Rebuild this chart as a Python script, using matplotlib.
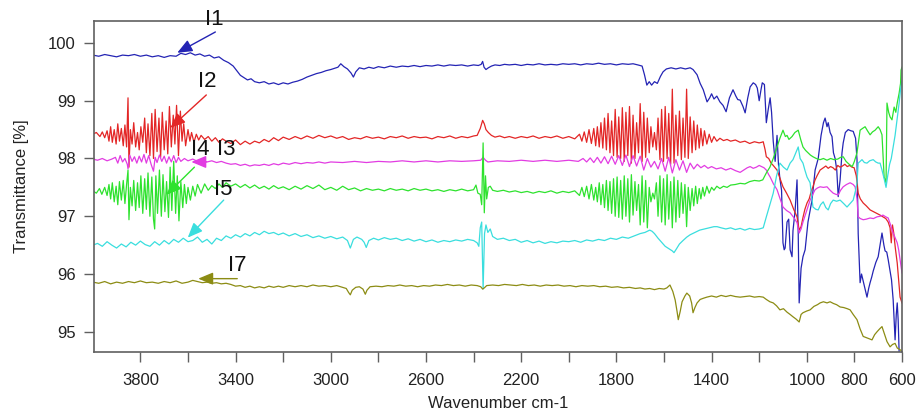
import numpy as np
import matplotlib
matplotlib.use("Agg")
import matplotlib.pyplot as plt

plt.rcParams['font.family'] = ['Liberation Sans', 'DejaVu Sans']

# FTIR spectra: flat lists of (wavenumber, transmittance %) pairs
i1 = [
    4000, 99.79, 3975, 99.77, 3950, 99.80, 3925, 99.78, 3900, 99.76, 3875, 99.79, 3850, 99.78, 3825, 99.80,
    3800, 99.77, 3775, 99.79, 3750, 99.76, 3725, 99.78, 3700, 99.75, 3675, 99.78, 3650, 99.77, 3630, 99.82,
    3610, 99.80, 3590, 99.83, 3570, 99.79, 3550, 99.81, 3530, 99.77, 3510, 99.79, 3490, 99.74, 3470, 99.76,
    3450, 99.70, 3430, 99.66, 3410, 99.60, 3395, 99.52, 3380, 99.44, 3365, 99.40, 3350, 99.36, 3335, 99.38,
    3320, 99.33, 3300, 99.31, 3280, 99.33, 3260, 99.29, 3240, 99.31, 3220, 99.28, 3200, 99.31, 3180, 99.29,
    3160, 99.32, 3140, 99.34, 3120, 99.37, 3100, 99.41, 3080, 99.44, 3060, 99.47, 3040, 99.49, 3020, 99.52,
    3000, 99.54, 2985, 99.56, 2970, 99.58, 2958, 99.64, 2945, 99.59, 2930, 99.55, 2915, 99.48, 2905, 99.41,
    2895, 99.50, 2880, 99.57, 2860, 99.55, 2840, 99.58, 2820, 99.56, 2800, 99.59, 2775, 99.57, 2750, 99.60,
    2725, 99.58, 2700, 99.60, 2675, 99.59, 2650, 99.61, 2625, 99.59, 2600, 99.61, 2575, 99.60, 2550, 99.62,
    2525, 99.60, 2500, 99.62, 2475, 99.61, 2450, 99.62, 2425, 99.60, 2400, 99.62, 2380, 99.61, 2368, 99.63,
    2362, 99.68, 2356, 99.58, 2348, 99.54, 2338, 99.57, 2325, 99.60, 2310, 99.62, 2290, 99.61, 2270, 99.63,
    2250, 99.62, 2225, 99.63, 2200, 99.61, 2175, 99.63, 2150, 99.62, 2125, 99.64, 2100, 99.62, 2075, 99.63,
    2050, 99.62, 2025, 99.64, 2000, 99.63, 1975, 99.64, 1950, 99.62, 1925, 99.64, 1900, 99.63, 1875, 99.65,
    1850, 99.63, 1825, 99.64, 1800, 99.62, 1775, 99.64, 1750, 99.63, 1730, 99.64, 1710, 99.62, 1692, 99.60,
    1682, 99.45, 1672, 99.27, 1662, 99.33, 1652, 99.27, 1640, 99.33, 1628, 99.30, 1615, 99.42, 1604, 99.50,
    1590, 99.55, 1570, 99.57, 1550, 99.55, 1530, 99.57, 1510, 99.55, 1490, 99.57, 1478, 99.54, 1461, 99.45,
    1448, 99.30, 1435, 99.19, 1419, 98.98, 1408, 99.05, 1400, 99.12, 1390, 99.03, 1378, 99.08, 1365, 98.98,
    1352, 98.92, 1339, 98.81, 1325, 99.05, 1310, 99.19, 1298, 99.08, 1290, 99.02, 1280, 99.01, 1268, 98.90,
    1259, 98.79, 1248, 99.05, 1238, 99.24, 1225, 99.31, 1215, 99.28, 1208, 99.22, 1200, 99.00, 1192, 99.20,
    1187, 99.31, 1178, 99.28, 1170, 98.62, 1162, 98.85, 1154, 99.05, 1148, 98.80, 1141, 98.30, 1133, 97.95,
    1125, 98.40, 1119, 97.90, 1113, 97.65, 1106, 97.45, 1100, 96.54, 1095, 96.42, 1091, 96.45, 1083, 96.90,
    1076, 96.95, 1070, 96.42, 1062, 96.30, 1058, 96.75, 1049, 97.10, 1041, 97.63, 1036, 96.70, 1032, 95.50,
    1024, 96.10, 1016, 96.30, 1007, 96.42, 995, 96.90, 978, 97.28, 965, 97.80, 952, 98.00, 940, 98.40,
    930, 98.62, 923, 98.70, 915, 98.55, 910, 98.62, 902, 98.45, 894, 98.38, 888, 98.10, 881, 98.00,
    874, 97.80, 868, 97.34, 860, 97.63, 852, 98.10, 847, 98.27, 838, 98.45, 826, 98.50, 815, 98.48,
    805, 98.47, 795, 98.35, 789, 97.98, 784, 96.70, 776, 95.85, 770, 96.00, 763, 95.88, 755, 95.75,
    747, 95.60, 740, 95.75, 734, 95.85, 727, 95.95, 721, 96.05, 710, 96.20, 700, 96.30, 690, 96.55,
    684, 96.71, 676, 96.50, 671, 96.40, 664, 96.38, 658, 96.25, 650, 96.05, 644, 95.90, 637, 95.55,
    629, 94.86, 624, 95.30, 620, 95.50, 616, 95.20, 612, 94.65, 606, 94.55, 600, 94.50,
]

i2 = [
    4000, 98.42, 3985, 98.45, 3970, 98.38, 3960, 98.46, 3950, 98.36, 3940, 98.48, 3932, 98.30, 3925, 98.55,
    3918, 98.28, 3910, 98.50, 3902, 98.25, 3895, 98.60, 3888, 98.30, 3880, 98.52, 3872, 98.22, 3865, 98.58,
    3858, 98.20, 3852, 99.05, 3848, 97.85, 3842, 98.50, 3835, 98.25, 3828, 98.62, 3820, 98.20, 3812, 98.45,
    3805, 98.15, 3798, 98.55, 3790, 98.28, 3782, 98.70, 3775, 98.10, 3768, 98.60, 3760, 98.05, 3752, 98.78,
    3745, 98.00, 3738, 98.85, 3730, 98.12, 3722, 98.70, 3715, 98.02, 3708, 98.80, 3700, 98.15, 3692, 98.65,
    3685, 98.08, 3678, 98.90, 3670, 98.20, 3662, 98.75, 3655, 98.25, 3648, 98.92, 3640, 98.05, 3632, 98.82,
    3625, 98.30, 3618, 98.60, 3610, 98.22, 3600, 98.50, 3592, 98.30, 3585, 98.45, 3575, 98.28, 3565, 98.42,
    3555, 98.32, 3545, 98.40, 3530, 98.33, 3515, 98.38, 3500, 98.30, 3485, 98.36, 3470, 98.28, 3455, 98.34,
    3440, 98.30, 3420, 98.26, 3400, 98.32, 3380, 98.24, 3360, 98.30, 3340, 98.25, 3320, 98.30, 3300, 98.27,
    3280, 98.33, 3260, 98.29, 3240, 98.36, 3220, 98.31, 3200, 98.37, 3175, 98.33, 3150, 98.38, 3125, 98.34,
    3100, 98.39, 3075, 98.35, 3050, 98.40, 3025, 98.36, 3000, 98.39, 2975, 98.35, 2950, 98.38, 2925, 98.33,
    2900, 98.36, 2875, 98.34, 2850, 98.38, 2825, 98.35, 2800, 98.37, 2775, 98.34, 2750, 98.38, 2725, 98.36,
    2700, 98.39, 2675, 98.35, 2650, 98.38, 2625, 98.36, 2600, 98.37, 2575, 98.34, 2550, 98.38, 2525, 98.36,
    2500, 98.39, 2475, 98.35, 2450, 98.38, 2425, 98.36, 2400, 98.39, 2385, 98.40, 2372, 98.52, 2362, 98.66,
    2355, 98.60, 2348, 98.50, 2338, 98.45, 2325, 98.40, 2310, 98.37, 2290, 98.39, 2270, 98.36, 2250, 98.38,
    2225, 98.35, 2200, 98.38, 2175, 98.36, 2150, 98.39, 2125, 98.35, 2100, 98.38, 2075, 98.36, 2050, 98.39,
    2025, 98.35, 2000, 98.38, 1975, 98.34, 1955, 98.42, 1945, 98.30, 1935, 98.46, 1925, 98.28, 1915, 98.50,
    1905, 98.26, 1895, 98.52, 1887, 98.22, 1880, 98.55, 1872, 98.20, 1865, 98.62, 1857, 98.18, 1850, 98.70,
    1842, 98.15, 1835, 98.78, 1827, 98.10, 1820, 98.65, 1812, 98.05, 1805, 98.85, 1797, 98.02, 1790, 98.72,
    1782, 98.00, 1775, 98.88, 1767, 97.95, 1760, 98.80, 1752, 98.05, 1745, 98.90, 1737, 97.92, 1730, 98.75,
    1722, 98.00, 1715, 98.62, 1707, 98.10, 1700, 98.95, 1692, 97.95, 1685, 98.80, 1677, 98.02, 1670, 98.70,
    1662, 98.10, 1655, 98.55, 1647, 98.20, 1640, 98.45, 1632, 98.15, 1625, 98.70, 1617, 97.98, 1610, 98.85,
    1602, 97.95, 1595, 98.90, 1587, 98.00, 1580, 98.78, 1572, 97.90, 1565, 99.20, 1558, 97.92, 1550, 98.75,
    1542, 98.05, 1535, 98.82, 1527, 97.98, 1520, 98.70, 1512, 98.02, 1505, 99.20, 1498, 98.00, 1490, 98.72,
    1482, 98.10, 1475, 98.65, 1467, 98.15, 1460, 98.58, 1452, 98.18, 1445, 98.52, 1437, 98.22, 1430, 98.48,
    1420, 98.25, 1410, 98.42, 1400, 98.28, 1390, 98.38, 1378, 98.30, 1365, 98.35, 1350, 98.31, 1335, 98.33,
    1320, 98.30, 1300, 98.32, 1280, 98.28, 1260, 98.30, 1240, 98.26, 1220, 98.29, 1200, 98.27, 1190, 98.28,
    1183, 98.29, 1175, 98.15, 1170, 98.03, 1160, 98.00, 1150, 97.92, 1141, 97.88, 1125, 97.80, 1112, 97.65,
    1100, 97.51, 1085, 97.40, 1070, 97.28, 1055, 97.12, 1041, 96.99, 1032, 96.76, 1024, 96.82, 1016, 96.98,
    1008, 97.12, 999, 97.23, 990, 97.30, 980, 97.45, 974, 97.51, 966, 97.62, 957, 97.70, 944, 97.80,
    930, 97.84, 920, 97.87, 910, 97.83, 900, 97.86, 890, 97.84, 880, 97.80, 870, 97.88, 860, 97.85,
    850, 97.87, 840, 97.90, 830, 97.86, 820, 97.88, 810, 97.85, 801, 97.84, 792, 97.70, 784, 97.40,
    775, 97.30, 763, 97.23, 750, 97.18, 734, 97.11, 720, 97.08, 705, 97.05, 692, 97.02, 680, 96.99,
    668, 96.96, 658, 96.90, 650, 96.80, 645, 96.54, 640, 96.85, 635, 96.72, 628, 96.45, 620, 96.19,
    614, 95.90, 608, 95.60, 600, 95.50,
]

i3 = [
    4000, 97.99, 3980, 97.97, 3960, 98.00, 3940, 97.96, 3920, 97.99, 3905, 98.02, 3895, 97.92, 3885, 98.05,
    3875, 97.94, 3865, 98.00, 3855, 97.90, 3852, 97.82, 3845, 98.06, 3835, 97.95, 3825, 98.03, 3815, 97.92,
    3805, 98.04, 3795, 97.94, 3785, 98.07, 3775, 97.92, 3765, 98.05, 3755, 97.90, 3745, 97.78, 3738, 98.02,
    3730, 97.93, 3720, 98.06, 3710, 97.95, 3700, 98.04, 3690, 97.92, 3680, 98.03, 3670, 97.94, 3660, 98.05,
    3650, 97.93, 3640, 98.02, 3630, 97.95, 3615, 98.00, 3600, 97.96, 3580, 97.99, 3560, 97.95, 3540, 97.97,
    3520, 97.94, 3500, 97.96, 3480, 97.93, 3460, 97.95, 3440, 97.92, 3420, 97.90, 3400, 97.91, 3380, 97.88,
    3360, 97.90, 3340, 97.87, 3320, 97.89, 3300, 97.88, 3280, 97.90, 3260, 97.88, 3240, 97.91, 3220, 97.89,
    3200, 97.92, 3175, 97.90, 3150, 97.93, 3125, 97.91, 3100, 97.93, 3075, 97.92, 3050, 97.94, 3025, 97.92,
    3000, 97.94, 2950, 97.93, 2900, 97.95, 2850, 97.93, 2800, 97.95, 2750, 97.94, 2700, 97.96, 2650, 97.94,
    2600, 97.96, 2550, 97.94, 2500, 97.96, 2450, 97.95, 2400, 97.96, 2370, 97.97, 2360, 98.02, 2350, 97.97,
    2340, 97.94, 2300, 97.96, 2250, 97.95, 2200, 97.97, 2150, 97.95, 2100, 97.97, 2050, 97.95, 2000, 97.97,
    1960, 97.95, 1940, 98.00, 1925, 97.94, 1910, 98.01, 1895, 97.93, 1880, 98.02, 1865, 97.92, 1850, 98.03,
    1835, 97.91, 1820, 98.04, 1805, 97.90, 1790, 98.05, 1775, 97.88, 1760, 98.06, 1745, 97.86, 1730, 98.05,
    1715, 97.87, 1700, 98.04, 1685, 97.80, 1670, 98.00, 1655, 97.85, 1640, 97.95, 1625, 97.82, 1610, 98.00,
    1595, 97.78, 1580, 98.02, 1565, 97.75, 1550, 97.98, 1535, 97.80, 1520, 97.96, 1505, 97.76, 1490, 97.92,
    1475, 97.82, 1460, 97.90, 1445, 97.84, 1430, 97.88, 1415, 97.83, 1400, 97.86, 1380, 97.82, 1360, 97.84,
    1340, 97.80, 1320, 97.83, 1300, 97.79, 1280, 97.76, 1265, 97.80, 1250, 97.84, 1238, 97.86, 1225, 97.83,
    1212, 97.85, 1200, 97.88, 1190, 97.86, 1180, 97.84, 1170, 97.80, 1160, 97.72, 1154, 97.68, 1140, 97.56,
    1125, 97.46, 1112, 97.30, 1100, 97.16, 1085, 97.10, 1070, 97.06, 1055, 96.98, 1041, 96.89, 1032, 96.71,
    1024, 96.78, 1016, 96.90, 1008, 97.00, 999, 97.11, 986, 97.28, 975, 97.38, 965, 97.46, 955, 97.49,
    944, 97.51, 930, 97.50, 915, 97.51, 902, 97.45, 889, 97.40, 878, 97.38, 868, 97.37, 858, 97.45,
    847, 97.51, 833, 97.55, 818, 97.58, 805, 97.55, 797, 97.51, 789, 97.30, 784, 96.99, 775, 96.96,
    763, 96.94, 750, 96.95, 734, 96.97, 720, 96.96, 705, 96.99, 692, 97.00, 680, 97.02, 668, 96.99,
    658, 96.97, 648, 96.85, 637, 96.71, 628, 96.62, 620, 96.54, 614, 96.42, 608, 96.25, 600, 96.02,
]

i4 = [
    4000, 97.44, 3985, 97.40, 3972, 97.48, 3962, 97.38, 3950, 97.50, 3940, 97.36, 3932, 97.55, 3925, 97.30,
    3918, 97.58, 3910, 97.25, 3902, 97.52, 3895, 97.20, 3888, 97.60, 3880, 97.28, 3872, 97.62, 3865, 97.22,
    3858, 97.55, 3852, 97.80, 3848, 96.94, 3842, 97.50, 3835, 97.18, 3828, 97.62, 3820, 97.10, 3812, 97.58,
    3805, 97.15, 3798, 97.70, 3790, 97.05, 3782, 97.65, 3775, 97.12, 3768, 97.75, 3760, 97.00, 3752, 97.68,
    3745, 96.95, 3740, 96.78, 3735, 97.70, 3728, 97.05, 3720, 97.80, 3712, 97.00, 3705, 97.72, 3697, 97.08,
    3690, 97.60, 3682, 96.98, 3675, 97.85, 3668, 97.10, 3660, 97.95, 3652, 97.05, 3645, 97.70, 3638, 96.92,
    3630, 97.60, 3622, 97.15, 3615, 97.55, 3607, 97.22, 3600, 97.50, 3590, 97.28, 3580, 97.52, 3570, 97.35,
    3560, 97.55, 3545, 97.40, 3530, 97.56, 3515, 97.45, 3500, 97.53, 3485, 97.48, 3470, 97.56, 3455, 97.50,
    3440, 97.58, 3420, 97.52, 3400, 97.56, 3380, 97.50, 3360, 97.55, 3340, 97.49, 3320, 97.54, 3300, 97.48,
    3280, 97.52, 3260, 97.47, 3240, 97.53, 3220, 97.48, 3200, 97.51, 3175, 97.46, 3150, 97.52, 3125, 97.47,
    3100, 97.53, 3075, 97.48, 3050, 97.54, 3025, 97.46, 3000, 97.50, 2975, 97.45, 2950, 97.52, 2925, 97.46,
    2900, 97.49, 2875, 97.44, 2850, 97.48, 2825, 97.45, 2800, 97.47, 2775, 97.44, 2750, 97.48, 2725, 97.45,
    2700, 97.47, 2675, 97.44, 2650, 97.48, 2625, 97.45, 2600, 97.47, 2575, 97.44, 2550, 97.46, 2525, 97.43,
    2500, 97.46, 2475, 97.44, 2450, 97.47, 2425, 97.44, 2400, 97.46, 2390, 97.54, 2382, 97.40, 2372, 97.38,
    2366, 97.20, 2360, 98.27, 2355, 97.06, 2350, 97.70, 2345, 97.30, 2338, 97.50, 2330, 97.52, 2320, 97.45,
    2300, 97.43, 2275, 97.45, 2250, 97.42, 2225, 97.44, 2200, 97.41, 2175, 97.43, 2150, 97.40, 2125, 97.43,
    2100, 97.41, 2075, 97.44, 2050, 97.40, 2025, 97.43, 2000, 97.41, 1975, 97.44, 1955, 97.36, 1945, 97.50,
    1935, 97.34, 1925, 97.52, 1915, 97.30, 1905, 97.55, 1895, 97.28, 1887, 97.50, 1880, 97.25, 1872, 97.58,
    1865, 97.20, 1857, 97.55, 1850, 97.15, 1842, 97.62, 1835, 97.10, 1827, 97.60, 1820, 97.05, 1812, 97.65,
    1805, 97.00, 1797, 97.68, 1790, 96.98, 1782, 97.62, 1775, 96.95, 1767, 97.70, 1760, 97.00, 1752, 97.65,
    1745, 96.90, 1737, 97.72, 1730, 97.02, 1722, 97.60, 1715, 97.10, 1707, 97.55, 1700, 96.85, 1692, 97.70,
    1685, 96.90, 1677, 97.62, 1670, 96.80, 1662, 97.50, 1655, 97.25, 1647, 97.40, 1640, 97.30, 1632, 97.58,
    1625, 97.00, 1617, 97.70, 1610, 96.90, 1602, 97.65, 1595, 96.85, 1587, 97.72, 1580, 96.95, 1572, 97.60,
    1565, 96.80, 1558, 97.68, 1550, 96.90, 1542, 97.62, 1535, 96.98, 1527, 97.58, 1520, 97.05, 1512, 97.55,
    1505, 96.82, 1498, 97.50, 1490, 97.10, 1482, 97.48, 1475, 97.18, 1467, 97.52, 1460, 97.22, 1452, 97.48,
    1445, 97.30, 1437, 97.50, 1430, 97.35, 1420, 97.52, 1410, 97.40, 1400, 97.50, 1390, 97.45, 1378, 97.52,
    1365, 97.48, 1350, 97.52, 1335, 97.50, 1320, 97.54, 1300, 97.55, 1280, 97.57, 1260, 97.56, 1240, 97.60,
    1220, 97.62, 1200, 97.61, 1185, 97.63, 1170, 97.75, 1155, 97.85, 1141, 98.00, 1125, 98.20, 1113, 98.35,
    1100, 98.49, 1090, 98.38, 1083, 98.40, 1075, 98.33, 1062, 98.38, 1050, 98.45, 1036, 98.49, 1025, 98.32,
    1016, 98.20, 1005, 98.14, 995, 98.10, 985, 98.06, 974, 98.03, 960, 98.00, 944, 97.98, 930, 98.00,
    915, 97.97, 900, 98.00, 885, 97.98, 870, 97.99, 858, 98.02, 847, 98.03, 835, 97.95, 822, 97.90,
    809, 97.86, 800, 97.95, 789, 98.10, 776, 98.49, 766, 98.52, 755, 98.55, 745, 98.48, 734, 98.41,
    724, 98.46, 713, 98.49, 700, 98.55, 692, 98.50, 684, 98.41, 675, 97.68, 667, 97.58, 663, 98.96,
    656, 98.80, 650, 98.72, 642, 98.67, 633, 98.89, 626, 98.80, 620, 98.96, 612, 99.13, 606, 99.30,
    604, 99.53, 600, 99.58,
]

i5 = [
    4000, 96.50, 3980, 96.53, 3960, 96.48, 3940, 96.56, 3920, 96.50, 3900, 96.45, 3880, 96.52, 3860, 96.47,
    3840, 96.55, 3820, 96.50, 3800, 96.57, 3780, 96.51, 3760, 96.48, 3740, 96.56, 3720, 96.50, 3700, 96.58,
    3680, 96.52, 3660, 96.60, 3640, 96.55, 3620, 96.62, 3600, 96.56, 3580, 96.58, 3560, 96.64, 3540, 96.55,
    3520, 96.60, 3500, 96.52, 3480, 96.62, 3460, 96.58, 3440, 96.66, 3420, 96.62, 3400, 96.68, 3380, 96.64,
    3360, 96.70, 3340, 96.66, 3320, 96.72, 3300, 96.68, 3280, 96.74, 3260, 96.70, 3240, 96.72, 3220, 96.68,
    3200, 96.71, 3175, 96.66, 3150, 96.70, 3125, 96.65, 3100, 96.68, 3075, 96.63, 3050, 96.66, 3025, 96.62,
    3000, 96.65, 2975, 96.61, 2950, 96.64, 2930, 96.58, 2918, 96.45, 2905, 96.60, 2890, 96.64, 2870, 96.60,
    2860, 96.55, 2851, 96.46, 2840, 96.58, 2820, 96.62, 2800, 96.59, 2775, 96.63, 2750, 96.60, 2725, 96.62,
    2700, 96.58, 2675, 96.61, 2650, 96.57, 2625, 96.60, 2600, 96.56, 2575, 96.59, 2550, 96.55, 2525, 96.58,
    2500, 96.56, 2475, 96.59, 2450, 96.57, 2425, 96.60, 2400, 96.58, 2385, 96.54, 2378, 96.48, 2372, 96.80,
    2366, 96.90, 2360, 95.74, 2354, 96.70, 2348, 96.85, 2340, 96.72, 2330, 96.78, 2320, 96.65, 2300, 96.60,
    2275, 96.62, 2250, 96.58, 2225, 96.60, 2200, 96.55, 2175, 96.58, 2150, 96.54, 2125, 96.57, 2100, 96.53,
    2075, 96.56, 2050, 96.54, 2025, 96.57, 2000, 96.56, 1975, 96.58, 1950, 96.55, 1925, 96.59, 1900, 96.57,
    1875, 96.60, 1850, 96.58, 1825, 96.62, 1800, 96.60, 1775, 96.64, 1750, 96.62, 1725, 96.66, 1700, 96.70,
    1680, 96.72, 1660, 96.76, 1650, 96.74, 1640, 96.70, 1625, 96.62, 1610, 96.55, 1595, 96.48, 1580, 96.44,
    1565, 96.40, 1558, 96.37, 1550, 96.42, 1535, 96.52, 1520, 96.58, 1504, 96.64, 1490, 96.68, 1470, 96.72,
    1450, 96.76, 1430, 96.78, 1410, 96.80, 1390, 96.82, 1377, 96.82, 1360, 96.80, 1340, 96.78, 1320, 96.80,
    1300, 96.77, 1280, 96.79, 1260, 96.76, 1240, 96.79, 1220, 96.77, 1200, 96.78, 1183, 96.80, 1170, 96.99,
    1155, 97.20, 1141, 97.40, 1127, 97.70, 1113, 97.92, 1098, 97.85, 1083, 97.80, 1070, 97.92, 1058, 97.98,
    1046, 98.10, 1036, 98.20, 1028, 98.00, 1016, 97.92, 1008, 97.80, 999, 97.68, 986, 97.58, 980, 97.35,
    974, 97.16, 962, 97.12, 952, 97.11, 942, 97.20, 931, 97.25, 920, 97.15, 910, 97.11, 900, 97.22,
    889, 97.28, 875, 97.26, 860, 97.28, 845, 97.22, 831, 97.16, 818, 97.22, 805, 97.28, 795, 97.45,
    789, 97.58, 784, 97.92, 776, 97.95, 768, 97.98, 758, 97.93, 747, 97.92, 736, 97.96, 721, 97.98,
    710, 97.94, 700, 97.92, 692, 97.92, 684, 97.80, 675, 97.65, 667, 97.50, 660, 97.70, 652, 97.90,
    645, 98.00, 637, 98.20, 629, 98.40, 620, 98.70, 612, 98.96, 606, 99.20, 600, 99.35,
]

i7 = [
    4000, 95.86, 3975, 95.84, 3950, 95.87, 3925, 95.83, 3900, 95.86, 3875, 95.84, 3850, 95.87, 3825, 95.85,
    3800, 95.88, 3775, 95.85, 3750, 95.86, 3725, 95.84, 3700, 95.87, 3675, 95.85, 3650, 95.88, 3625, 95.84,
    3600, 95.86, 3580, 95.89, 3560, 95.87, 3540, 95.85, 3520, 95.86, 3500, 95.84, 3480, 95.85, 3460, 95.83,
    3440, 95.84, 3420, 95.82, 3400, 95.79, 3380, 95.80, 3360, 95.77, 3340, 95.79, 3320, 95.76, 3300, 95.78,
    3280, 95.76, 3260, 95.79, 3240, 95.77, 3220, 95.79, 3200, 95.77, 3175, 95.80, 3150, 95.78, 3125, 95.80,
    3100, 95.78, 3075, 95.81, 3050, 95.79, 3025, 95.80, 3000, 95.78, 2975, 95.80, 2950, 95.77, 2935, 95.75,
    2925, 95.68, 2918, 95.64, 2910, 95.72, 2895, 95.77, 2880, 95.78, 2865, 95.74, 2855, 95.65, 2848, 95.72,
    2835, 95.78, 2810, 95.79, 2785, 95.78, 2760, 95.80, 2735, 95.79, 2710, 95.81, 2685, 95.79, 2660, 95.80,
    2635, 95.78, 2610, 95.80, 2585, 95.79, 2560, 95.81, 2535, 95.80, 2510, 95.82, 2485, 95.80, 2460, 95.81,
    2435, 95.79, 2410, 95.81, 2385, 95.80, 2370, 95.78, 2362, 95.74, 2355, 95.76, 2345, 95.80, 2320, 95.81,
    2295, 95.80, 2270, 95.82, 2245, 95.81, 2220, 95.80, 2195, 95.82, 2170, 95.80, 2145, 95.81, 2120, 95.79,
    2095, 95.81, 2070, 95.80, 2045, 95.81, 2020, 95.79, 1995, 95.80, 1970, 95.78, 1945, 95.80, 1920, 95.79,
    1895, 95.80, 1870, 95.78, 1845, 95.79, 1820, 95.77, 1795, 95.78, 1770, 95.76, 1745, 95.77, 1720, 95.75,
    1700, 95.76, 1680, 95.74, 1660, 95.75, 1640, 95.73, 1620, 95.75, 1600, 95.74, 1588, 95.76, 1575, 95.81,
    1563, 95.70, 1553, 95.55, 1545, 95.35, 1540, 95.21, 1532, 95.35, 1524, 95.52, 1512, 95.62, 1504, 95.67,
    1492, 95.62, 1484, 95.50, 1478, 95.33, 1470, 95.42, 1461, 95.50, 1448, 95.56, 1435, 95.58, 1420, 95.60,
    1400, 95.62, 1380, 95.60, 1360, 95.63, 1340, 95.61, 1320, 95.63, 1300, 95.61, 1280, 95.60, 1260, 95.61,
    1240, 95.62, 1220, 95.60, 1200, 95.61, 1183, 95.60, 1170, 95.56, 1155, 95.52, 1141, 95.50, 1127, 95.45,
    1113, 95.38, 1098, 95.40, 1083, 95.34, 1070, 95.30, 1058, 95.26, 1045, 95.22, 1032, 95.17, 1024, 95.30,
    1016, 95.33, 1000, 95.36, 986, 95.38, 970, 95.44, 955, 95.47, 944, 95.50, 930, 95.52, 915, 95.50,
    902, 95.52, 888, 95.49, 875, 95.47, 860, 95.43, 845, 95.42, 830, 95.40, 818, 95.38, 805, 95.30,
    789, 95.21, 776, 95.05, 763, 94.92, 750, 94.90, 738, 94.88, 726, 94.86, 715, 94.95, 705, 95.00,
    694, 95.05, 684, 95.09, 675, 94.98, 663, 94.83, 650, 94.74, 640, 94.78, 629, 94.80, 620, 94.72,
    608, 94.69, 600, 94.66,
]

names = ['I1', 'I2', 'I3', 'I4', 'I5', 'I7']
colors = ['#2424b4', '#e32626', '#e23ce2', '#2ee22e', '#3adede', '#8c8c14']
spectra = [i1, i2, i3, i4, i5, i7]

x_ticks = [3800, 3600, 3400, 3200, 3000, 2800, 2600, 2400, 2200, 2000, 1800, 1600, 1400, 1200, 1000, 800, 600]
x_tick_labels = ['3800', '', '3400', '', '3000', '', '2600', '', '2200', '', '1800', '', '1400', '', '1000', '800', '600']
y_ticks = [95, 96, 97, 98, 99, 100]

fig = plt.figure(figsize=(9.16, 4.16), dpi=100)
ax = fig.add_axes([0.1026, 0.1538, 0.8821, 0.7957])

for data, c in zip(spectra, colors):
    arr = np.array(data).reshape(-1, 2)
    ax.plot(arr[:, 0], arr[:, 1], color=c, lw=0.9)

ax.set_xlim(3995, 600)
ax.set_ylim(94.65, 100.38)
ax.set_xticks(x_ticks)
ax.set_xticklabels(x_tick_labels)
ax.set_yticks(y_ticks)
ax.set_yticklabels([str(v) for v in y_ticks])

for s in ax.spines.values():
    s.set_color('#606060')
    s.set_linewidth(1.2)
ax.tick_params(axis='both', direction='out', length=7, width=1, color='#606060',
               labelcolor='#222222', labelsize=12)
ax.tick_params(axis='x', pad=8)
ax.tick_params(axis='y', pad=6)

ax.set_xlabel('Wavenumber cm-1', fontsize=12, color='#222222', labelpad=6)
ax.set_ylabel('Transmittance [%]', fontsize=12, color='#222222', labelpad=14)

# label text position, arrow tail, arrow tip (data coordinates)
marks = [
    ((3489, 100.40), (3485, 100.19), (3645, 99.83)),
    ((3519, 99.33), (3523, 99.10), (3674, 98.53)),
    ((3439, 98.15), (3522, 97.94), (3586, 97.94)),
    ((3548, 98.15), (3573, 97.85), (3691, 97.37)),
    ((3451, 97.46), (3450, 97.28), (3601, 96.63)),
    ((3393, 96.14), (3393, 95.92), (3557, 95.92)),
]
for name, c, (txt, tail, tip) in zip(names, colors, marks):
    ax.annotate('', xy=tip, xytext=tail, annotation_clip=False,
                arrowprops=dict(arrowstyle='-|>,head_length=0.6,head_width=0.25',
                                color=c, lw=1, shrinkA=0, shrinkB=0, mutation_scale=15))
    ax.text(txt[0], txt[1], name, fontsize=16, ha='center', va='center', color='#111111',
            clip_on=False)

fig.savefig('out.png', dpi=100)
